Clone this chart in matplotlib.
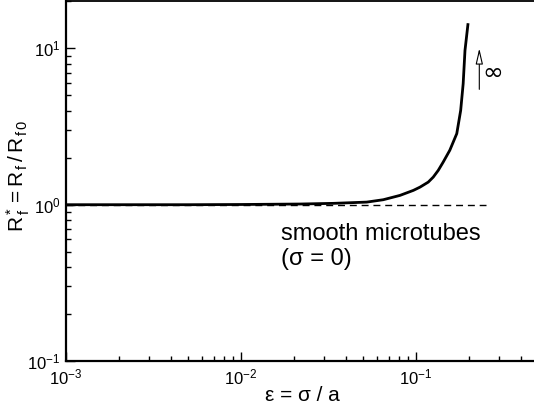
import matplotlib
matplotlib.use("Agg")
import matplotlib.pyplot as plt
import numpy as np

plt.rcParams['font.family'] = ['Liberation Sans', 'DejaVu Sans']
plt.rcParams['mathtext.fontset'] = 'custom'
plt.rcParams['mathtext.rm'] = 'Liberation Sans'
plt.rcParams['mathtext.it'] = 'Liberation Sans'

# friction ratio vs relative roughness
eps = [0.001, 0.005, 0.01, 0.0217, 0.0337, 0.0523, 0.065, 0.081, 0.0966,
       0.1055, 0.1175, 0.1255, 0.134, 0.143, 0.156, 0.171, 0.180, 0.186,
       0.1905, 0.198]
rf = [1.0, 1.0, 1.003, 1.01, 1.02, 1.039, 1.076, 1.147, 1.235,
      1.296, 1.395, 1.502, 1.658, 1.873, 2.23, 2.85, 4.01, 5.94,
      9.7, 14.2]

smooth_x = [0.001, 0.25]
smooth_y = [1.0, 1.0]

fig = plt.figure(figsize=(5.34, 4.04), dpi=100)
W, H = 534, 404
left, bottom = 66, 361
xlo, xhi = 1e-3, 0.5
ylo, yhi = 0.1, 20
wpx = (np.log10(xhi) - np.log10(xlo)) * 175
hpx = (np.log10(yhi) - np.log10(ylo)) * 156.3
ax = fig.add_axes([left / W, (H - bottom) / H, wpx / W, hpx / H])

ax.plot(eps, rf, color='black', lw=2.0, solid_joinstyle='round')
ax.plot(smooth_x, smooth_y, color='black', lw=1.0, dashes=(5, 3.5))

ax.set_xscale('log')
ax.set_yscale('log')
ax.set_xlim(xlo, xhi)
ax.set_ylim(ylo, yhi)

ax.spines['right'].set_visible(False)
ax.spines['left'].set_linewidth(1.6)
ax.spines['bottom'].set_linewidth(1.6)
ax.spines['top'].set_linewidth(1.3)

ax.tick_params(which='both', direction='in', top=False, right=False,
               labelsize=12, width=1.0)
ax.tick_params(which='major', length=6.5)
ax.tick_params(which='minor', length=3.5)
ax.tick_params(axis='x', pad=5)
ax.tick_params(axis='y', pad=4)

ax.set_xlabel('ε = σ / a', fontsize=15, labelpad=-1)
ax.set_ylabel(r'$\mathregular{R^*_{\,f} = R_{\,f}\,/\,R_{\,f\,0}}$', fontsize=15)
ax.yaxis.set_label_coords((32 - left) / wpx, 0.515)

ax.annotate('', xy=(0.230, 10.0), xytext=(0.230, 5.47),
            arrowprops=dict(arrowstyle='-|>,head_length=0.95,head_width=0.22',
                            fc='white', ec='black', lw=0.8, mutation_scale=10,
                            shrinkA=0, shrinkB=0))
ax.text(0.275, 7.0, '∞', fontsize=18, ha='center', va='center',
        family=['DejaVu Sans'])

ax.text(0.0169, 0.76, 'smooth microtubes\n(σ = 0)', fontsize=17,
        ha='left', va='top', linespacing=1.15,
        transform=ax.transData)

fig.savefig('out.png', dpi=100)
